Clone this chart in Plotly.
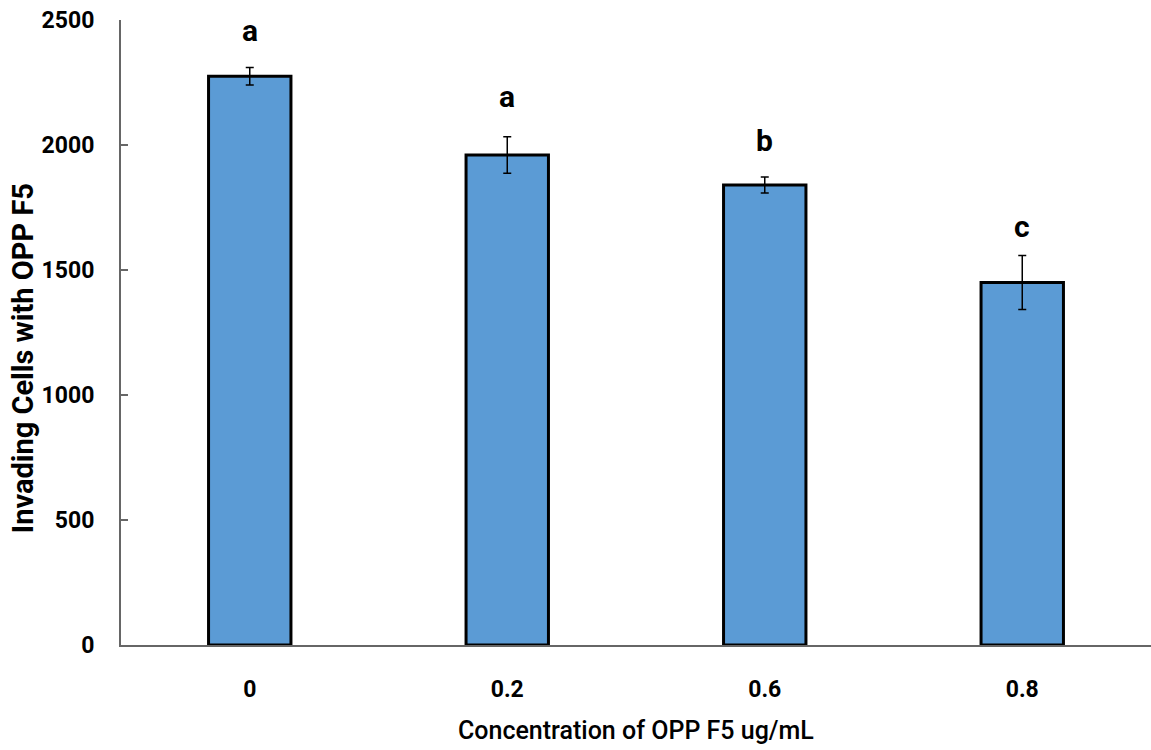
import plotly.graph_objects as go

concentrations = ["0", "0.2", "0.6", "0.8"]
invading_cells = [2275, 1960, 1840, 1450]
std_error = [35, 73, 32, 108]
group_letters = ["a", "a", "b", "c"]
letter_y = [2460, 2193, 2020, 1673]

FONT = "Roboto, Arial"

fig = go.Figure()
fig.add_trace(go.Bar(
    x=concentrations,
    y=invading_cells,
    marker=dict(color="#5B9BD5", line=dict(color="black", width=3)),
    error_y=dict(type="data", array=std_error, visible=True,
                 color="black", thickness=1.5, width=4),
    width=0.32,
))

# significance letters above each bar (category index positions)
for i, (ly, letter) in enumerate(zip(letter_y, group_letters)):
    fig.add_annotation(x=i, y=ly, xref="x", yref="y", text=f"<b>{letter}</b>",
                       showarrow=False,
                       font=dict(family=FONT, size=30, color="black"))

# axis titles placed as annotations
fig.add_annotation(text="<b>Invading Cells with OPP F5</b>", textangle=-90,
                   xref="paper", yref="paper", x=-0.095, y=0.459,
                   xanchor="center", yanchor="middle", showarrow=False,
                   font=dict(family=FONT, size=29, color="black"))
fig.add_annotation(text="Concentration of OPP F5 ug/mL",
                   xref="paper", yref="paper", x=0.5, y=-0.137,
                   xanchor="center", yanchor="middle", showarrow=False,
                   font=dict(family=FONT, size=25, color="black", weight=500))

fig.update_layout(
    width=1151, height=750,
    margin=dict(l=121, r=0, t=20, b=105),
    plot_bgcolor="white", paper_bgcolor="white",
    showlegend=False,
    font=dict(family=FONT, color="black"),
    xaxis=dict(
        type="category",
        showline=True, linecolor="#666666", linewidth=2,
        ticks="", showgrid=False,
        tickfont=dict(family=FONT, size=23, color="black", weight="bold"),
        ticklabelstandoff=22,
    ),
    yaxis=dict(
        range=[0, 2500], tickvals=[0, 500, 1000, 1500, 2000, 2500],
        showline=True, linecolor="#666666", linewidth=2,
        ticks="inside", ticklen=7, tickcolor="#666666", tickwidth=2,
        showgrid=False, zeroline=False,
        tickfont=dict(family=FONT, size=23, color="black", weight="bold"),
        ticklabelstandoff=20,
    ),
)

fig.write_html("out.html")
